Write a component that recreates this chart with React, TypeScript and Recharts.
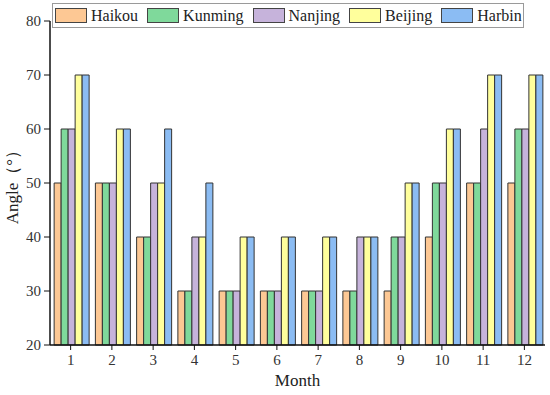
import React from 'react'
import { BarChart, Bar, XAxis, YAxis } from 'recharts'

const months = ['1', '2', '3', '4', '5', '6', '7', '8', '9', '10', '11', '12']
const haikou = [50, 50, 40, 30, 30, 30, 30, 30, 30, 40, 50, 50]
const kunming = [60, 50, 40, 30, 30, 30, 30, 30, 40, 50, 50, 60]
const nanjing = [60, 50, 50, 40, 30, 30, 30, 40, 40, 50, 60, 60]
const beijing = [70, 60, 50, 40, 40, 40, 40, 40, 50, 60, 70, 70]
const harbin = [70, 60, 60, 50, 40, 40, 40, 40, 50, 60, 70, 70]
const yTicks = [20, 30, 40, 50, 60, 70, 80]

const SERIES = [
  { key: 'Haikou', values: haikou, color: '#FDC894' },
  { key: 'Kunming', values: kunming, color: '#7FD99B' },
  { key: 'Nanjing', values: nanjing, color: '#C6B3DB' },
  { key: 'Beijing', values: beijing, color: '#FFFF9C' },
  { key: 'Harbin', values: harbin, color: '#8BBCF3' },
]

const data = months.map((m, i) => {
  const row: Record<string, string | number> = { month: m }
  SERIES.forEach((s) => (row[s.key] = s.values[i]))
  return row
})

const FONT = '"Liberation Serif", "Times New Roman", serif'

// legend drawn as plain html on top of the chart, like the original's boxed legend
function LegendBox() {
  return (
    <div
      style={{
        position: 'absolute',
        left: 52,
        top: 3,
        display: 'flex',
        alignItems: 'center',
        border: '1px solid #9a9a9a',
        background: '#fff',
        padding: '2px 1px 2px 2px',
        fontFamily: FONT,
        fontSize: 16,
        color: '#222',
        lineHeight: '19px',
      }}
    >
      {SERIES.map((s, i) => (
        <div key={s.key} style={{ display: 'flex', alignItems: 'center', marginRight: i < SERIES.length - 1 ? 9 : 0 }}>
          <span
            style={{
              display: 'inline-block',
              width: 30,
              height: 13,
              background: s.color,
              border: '1px solid #444',
              marginRight: 4,
            }}
          />
          <span>{s.key}</span>
        </div>
      ))}
    </div>
  )
}

export default function App() {
  return (
    <div style={{ position: 'absolute', left: 0, top: 0, width: 550, height: 395, background: '#fff' }}>
      <BarChart
        width={550}
        height={395}
        data={data}
        margin={{ top: 21, right: 5, bottom: 5, left: 0 }}
        barCategoryGap="10%"
        barGap={0}
      >
        <XAxis
          dataKey="month"
          height={45}
          stroke="#111"
          tick={{ fill: '#333', fontSize: 15, fontFamily: FONT }}
          tickSize={5}
          tickMargin={4}
          axisLine={{ stroke: '#111', strokeWidth: 1.5 }}
          label={{ value: 'Month', position: 'insideBottom', offset: 4, fill: '#222', fontSize: 17, fontFamily: FONT }}
        />
        <YAxis
          domain={[20, 80]}
          ticks={yTicks}
          width={50}
          stroke="#111"
          tick={{ fill: '#333', fontSize: 15, fontFamily: FONT }}
          tickSize={6}
          tickMargin={3}
          axisLine={{ stroke: '#111', strokeWidth: 1.5 }}
          label={{
            value: 'Angle（°）',
            angle: -90,
            position: 'insideLeft',
            offset: 12,
            fill: '#222',
            fontSize: 17,
            fontFamily: FONT,
            style: { textAnchor: 'middle' },
          }}
        />
        {SERIES.map((s) => (
          <Bar
            key={s.key}
            dataKey={s.key}
            fill={s.color}
            stroke="#333"
            strokeWidth={1}
            isAnimationActive={false}
          />
        ))}
      </BarChart>
      <LegendBox />
    </div>
  )
}
